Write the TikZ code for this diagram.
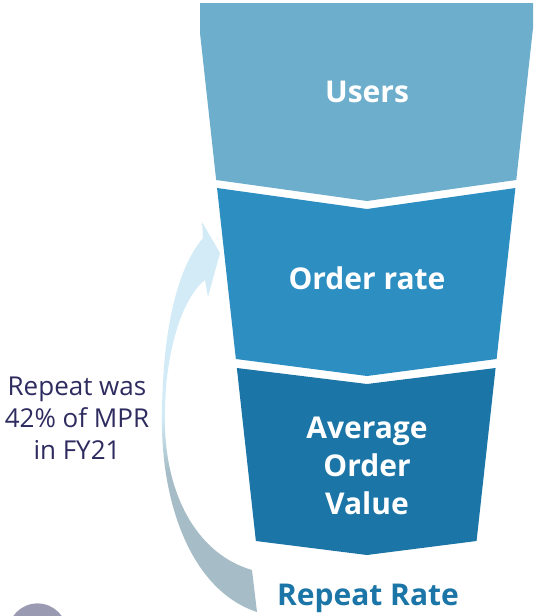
\documentclass[tikz,border=0pt]{standalone}
\usepackage{fontspec}
\setmainfont{Open Sans}
\usepackage{tikz}
\usetikzlibrary{calc,shapes}
\definecolor{usersblue}{HTML}{6EAECD}
\definecolor{orderblue}{HTML}{2D8EC2}
\definecolor{aovblue}{HTML}{1B75A7}
\definecolor{notenavy}{HTML}{2E2B5F}
\definecolor{arrowtop}{HTML}{D2EBF6}
\definecolor{arrowbot}{HTML}{A6BDC7}
\definecolor{avatar}{HTML}{9B9AB3}
\pgfdeclareverticalshading{loopfade}{100bp}{color(0bp)=(arrowbot); color(43bp)=(arrowbot); color(50bp)=(arrowtop); color(100bp)=(arrowtop)}
\tikzstyle{seglabel}=[text=white, font=\fontsize{30}{38}\selectfont\bfseries, align=center, inner sep=0pt]
\tikzstyle{note}=[text=notenavy, font=\fontsize{26}{32}\selectfont, align=center, inner sep=0pt]
\tikzstyle{rrlabel}=[seglabel, text=aovblue]
% one funnel part: name, colour, top y at sides, top y in middle, bottom y at sides, bottom y in middle
\newcommand{\lx}[1]{200+0.11*(#1-33)}
\newcommand{\rx}[1]{533-0.11*(#1-28)}
\newcommand{\funnelpart}[6]{ \fill[#2] ({\lx{#3}},#3) -- (367,#4) -- ({\rx{#3}},#3) -- ({\rx{#5}},#5) -- (367,#6) -- ({\lx{#5}},#5) -- cycle; }

\begin{document}
\begin{tikzpicture}[x=1pt,y=-1pt]
        \useasboundingbox (0,0) rectangle (539,616);
        \clip (0,0) rectangle (539,616);
        % top part is straight for a bit, then tapers
        \fill[usersblue] (200,3) -- (533,3) -- (533,28) -- ({\rx{180}},180) -- (367,201) -- ({\lx{180}},180) -- (200,33) -- cycle;
        \funnelpart{}{orderblue}{188}{209}{359}{376}
        \funnelpart{}{aovblue}{368}{384}{541}{555}

        \node[seglabel] (users) at (367,92) {Users};
        \node[seglabel] (order) at (367,278) {Order rate};
        \node[seglabel] (aov) at (367,466) {Average\\Order\\Value};
        \node[rrlabel] (repeat) at (368,598) {Repeat Rate};
        \node[note] (remark) at (77,418) {Repeat was\\42\% of MPR\\in FY21};

        % loop arrow, back into the order rate
        \shade[shading=loopfade]
            (257,612) .. controls (190,590) and (160,500) .. (162,413)
            .. controls (163,320) and (180,265) .. (203,238)
            -- (202,222) -- (220,253) -- (208,297) -- (205,280)
            .. controls (180,300) and (163,360) .. (165,427)
            .. controls (167,500) and (200,555) .. (252,570) -- cycle;

        \fill[avatar] (37.5,633) circle (29.6);
\end{tikzpicture}
\end{document}
